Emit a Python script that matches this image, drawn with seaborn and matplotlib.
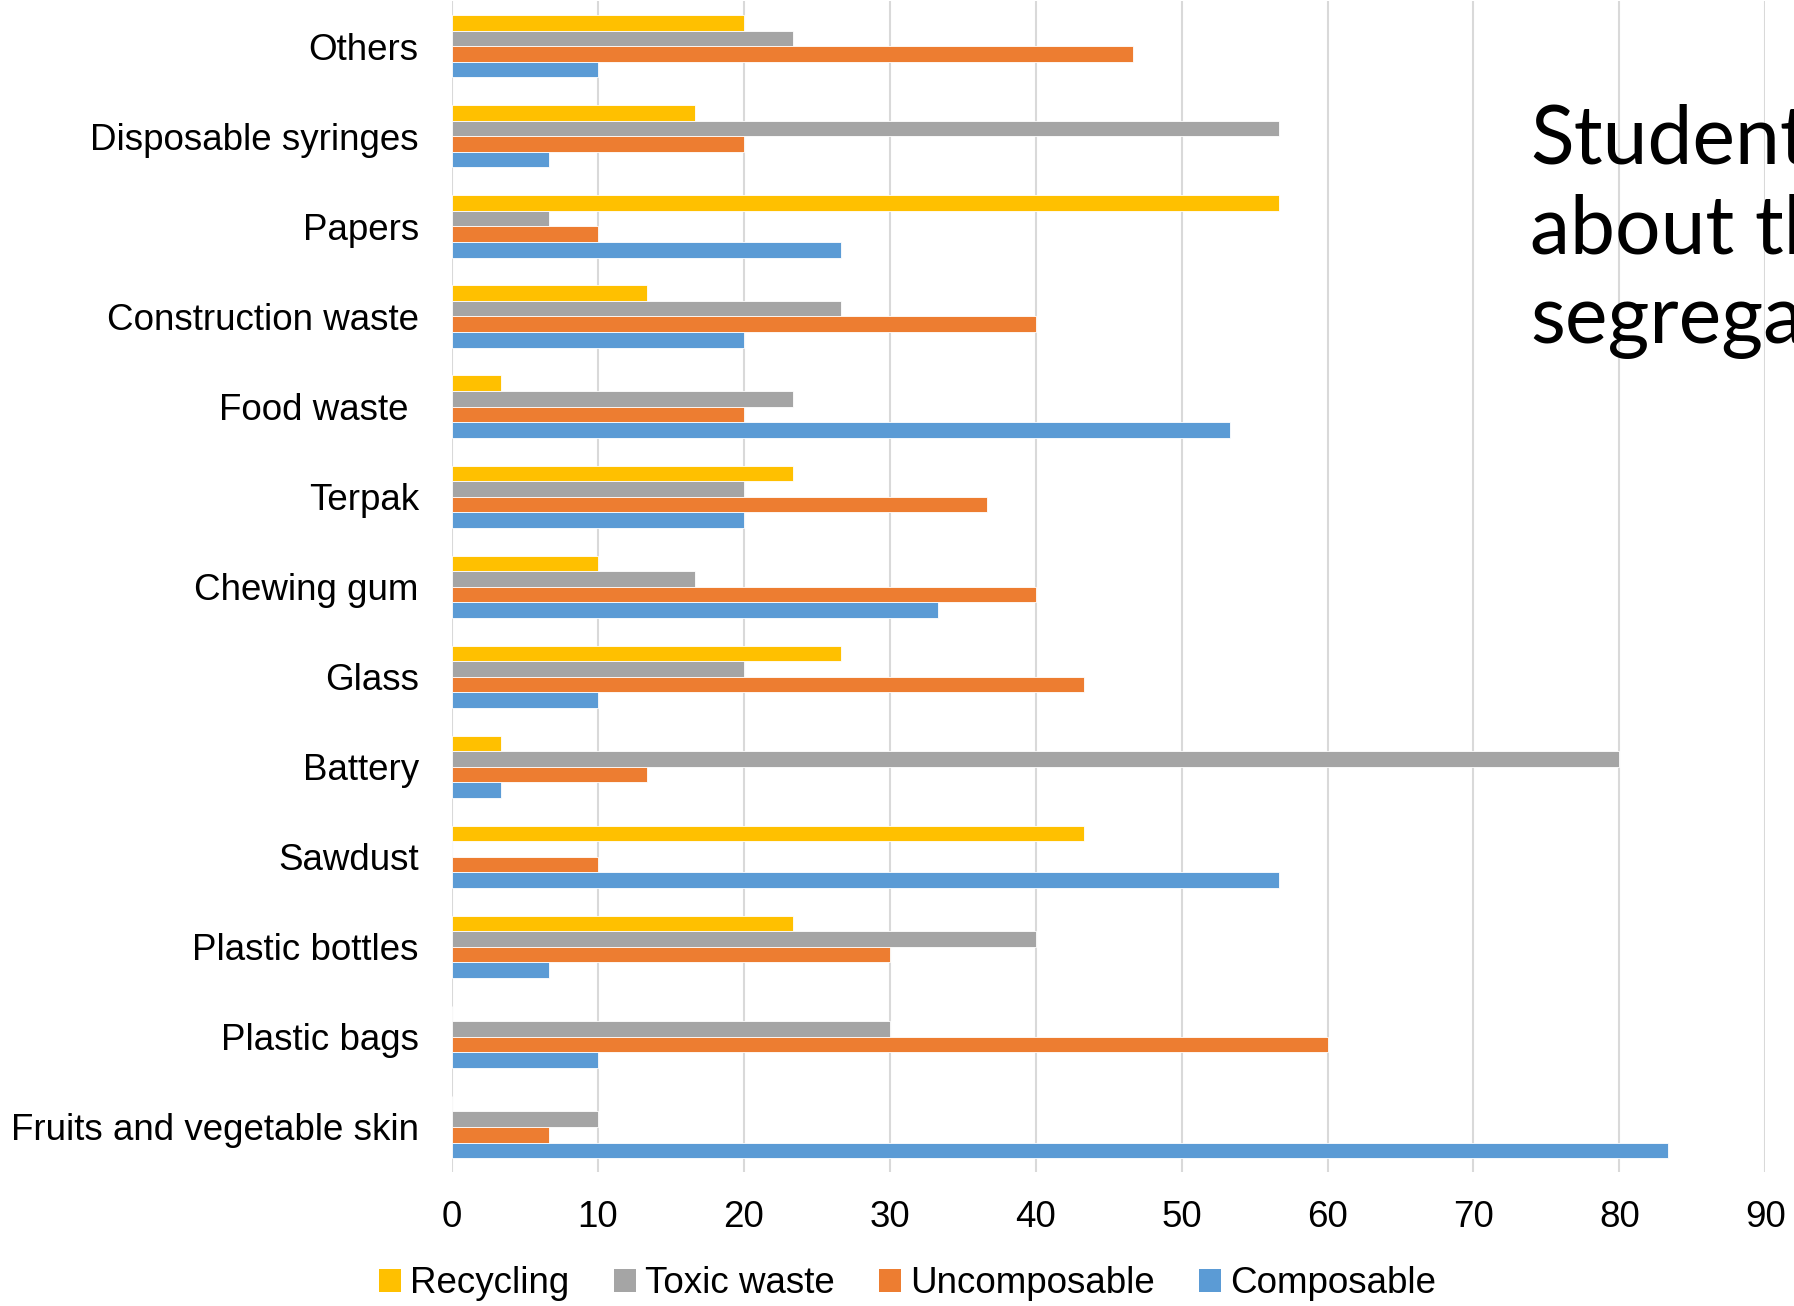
import matplotlib
matplotlib.use("Agg")
import matplotlib.pyplot as plt
import seaborn as sns
import pandas as pd
from matplotlib.patches import Patch

categories = ["Others", "Disposable syringes", "Papers", "Construction waste",
              "Food waste ", "Terpak", "Chewing gum", "Glass", "Battery",
              "Sawdust", "Plastic bottles", "Plastic bags",
              "Fruits and vegetable skin"]
series = ["Recycling", "Toxic waste", "Uncomposable", "Composable"]
recycling = [20.0, 16.67, 56.67, 13.33, 3.33, 23.33, 10.0, 26.67, 3.33, 43.33, 23.33, 0.0, 0.0]
toxic = [23.33, 56.67, 6.67, 26.67, 23.33, 20.0, 16.67, 20.0, 80.0, 0.0, 40.0, 30.0, 10.0]
uncomposable = [46.67, 20.0, 10.0, 40.0, 20.0, 36.67, 40.0, 43.33, 13.33, 10.0, 30.0, 60.0, 6.67]
composable = [10.0, 6.67, 26.67, 20.0, 53.33, 20.0, 33.33, 10.0, 3.33, 56.67, 6.67, 10.0, 83.33]
colors = ["#FFC000", "#A5A5A5", "#ED7D31", "#5B9BD5"]
xticks = [0, 10, 20, 30, 40, 50, 60, 70, 80, 90]

rows = []
for name, vals in zip(series, [recycling, toxic, uncomposable, composable]):
    for c, v in zip(categories, vals):
        rows.append({"Category": c, "Series": name, "Value": v})
df = pd.DataFrame(rows)

sns.set_theme(style="white")
plt.rcParams["font.family"] = ["Liberation Sans", "DejaVu Sans"]
plt.rcParams["text.color"] = "black"
plt.rcParams["xtick.color"] = "black"
plt.rcParams["ytick.color"] = "black"

fig = plt.figure(figsize=(17.94, 13.06), dpi=100)
ax = fig.add_axes([0.252, 0.1026, 0.732, 0.8964])

sns.barplot(data=df, y="Category", x="Value", hue="Series", order=categories,
            hue_order=series, palette=colors, saturation=1, orient="y", width=0.69,
            edgecolor="white", linewidth=0.6, ax=ax, legend=False)

ax.set_xlim(0, 90)
ax.set_xticks(xticks)
ax.set_xticklabels([str(t) for t in xticks], fontsize=26.5)
ax.tick_params(axis="y", labelsize=26.5, length=0, pad=24)
ax.tick_params(axis="x", length=0, pad=20)
ax.set_xlabel("")
ax.set_ylabel("")
ax.xaxis.grid(True, color="#D9D9D9", linewidth=1.5)
ax.set_axisbelow(True)
for s in ax.spines.values():
    s.set_visible(False)

handles = [Patch(facecolor=c, edgecolor="none", label=s) for c, s in zip(colors, series)]
fig.legend(handles=handles, loc="center", bbox_to_anchor=(0.506, 0.017), ncol=4,
           frameon=False, fontsize=26.5, handlelength=0.6, handleheight=0.6,
           handletextpad=0.25, columnspacing=1.2)

fig.text(0.853, 0.737, "Students\nabout the\nsegregation", fontsize=58,
         family=["Lato", "DejaVu Sans"], weight="normal", color="black",
         va="baseline", ha="left", linespacing=1.27)

fig.savefig("out.png", dpi=100)
